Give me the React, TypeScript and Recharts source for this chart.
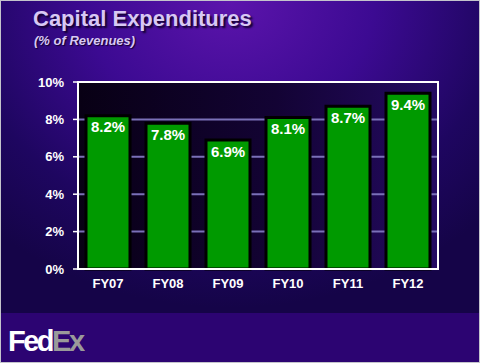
import React from "react"
import { BarChart, Bar, XAxis, YAxis, CartesianGrid, ReferenceArea, LabelList } from "recharts"

// fiscal years and capex as % of revenues
const fiscalYears = ["FY07", "FY08", "FY09", "FY10", "FY11", "FY12"]
const capexPct = [8.2, 7.8, 6.9, 8.1, 8.7, 9.4]
const yTicks = [0, 2, 4, 6, 8, 10]

const data = fiscalYears.map((fy, i) => ({ fy, capex: capexPct[i] }))

const font = "'Liberation Sans', Arial, sans-serif"

export default function App() {
  return (
    <div
      style={{
        position: "absolute",
        left: 0,
        top: 0,
        width: 480,
        height: 363,
        boxSizing: "border-box",
        border: "1px solid #c4c4cc",
        overflow: "hidden",
        fontFamily: font,
        background:
          "radial-gradient(ellipse 75% 85% at 48% 0%, #5c14ac 0%, #3c0a92 40%, #1e0660 75%, #150448 100%)",
      }}
    >
      {/* bottom band */}
      <div
        style={{
          position: "absolute",
          left: 0,
          right: 0,
          top: 312,
          bottom: 0,
          background: "#2c0472",
        }}
      />
      <div
        style={{
          position: "absolute",
          left: 32,
          top: 5,
          color: "#d8c8f4",
          fontWeight: "bold",
          fontSize: 22,
          textShadow: "2px 2px 2px #12002e",
          whiteSpace: "nowrap",
        }}
      >
        Capital Expenditures
      </div>
      <div
        style={{
          position: "absolute",
          left: 33,
          top: 32,
          color: "#d8c8f4",
          fontWeight: "bold",
          fontStyle: "italic",
          fontSize: 13,
          textShadow: "1px 1px 1px #12002e",
          whiteSpace: "nowrap",
        }}
      >
        (% of Revenues)
      </div>
      <div
        style={{
          position: "absolute",
          left: 7,
          top: 324,
          fontWeight: "bold",
          fontSize: 29,
          letterSpacing: -2.5,
          whiteSpace: "nowrap",
        }}
      >
        <span style={{ color: "#ffffff" }}>Fed</span>
        <span style={{ color: "#9a9a9a" }}>Ex</span>
        <span style={{ color: "#9a9a9a", fontSize: 8, letterSpacing: 0 }}>.</span>
      </div>

      <div style={{ position: "absolute", left: 0, top: 0 }}>
        <BarChart
          width={480}
          height={363}
          data={data}
          margin={{ top: 81, right: 43, bottom: 65, left: 27 }}
          barSize={44}
        >
          <defs>
            <linearGradient id="plotBg" x1="0" y1="0" x2="1" y2="0">
              <stop offset="0%" stopColor="#080014" />
              <stop offset="55%" stopColor="#130334" />
              <stop offset="100%" stopColor="#240a62" />
            </linearGradient>
          </defs>
          <CartesianGrid
            vertical={false}
            fill="url(#plotBg)"
            fillOpacity={1}
            stroke="#7a70b8"
            strokeWidth={2}
          />
          <ReferenceArea y1={0} y2={10} fill="none" stroke="#ffffff" strokeWidth={2} />
          <XAxis
            dataKey="fy"
            height={30}
            axisLine={{ stroke: "#ffffff", strokeWidth: 2 }}
            tickLine={false}
            tickSize={0}
            tickMargin={10}
            tick={{ fill: "#ffffff", fontSize: 13, fontWeight: "bold", fontFamily: font }}
          />
          <YAxis
            domain={[0, 10]}
            ticks={yTicks}
            width={50}
            axisLine={false}
            tickLine={{ stroke: "#ffffff", strokeWidth: 1.5 }}
            tickSize={5}
            tickMargin={9}
            tickFormatter={(v) => `${v}%`}
            tick={{ fill: "#ffffff", fontSize: 13, fontWeight: "bold", fontFamily: font }}
          />
          <Bar dataKey="capex" fill="#009a00" stroke="#000000" strokeWidth={3} isAnimationActive={false}>
            <LabelList
              dataKey="capex"
              position="insideTop"
              offset={6}
              formatter={(v: number) => `${v.toFixed(1)}%`}
              style={{ fill: "#ffffff", fontSize: 15, fontWeight: "bold", fontFamily: font }}
            />
          </Bar>
        </BarChart>
      </div>
    </div>
  )
}
